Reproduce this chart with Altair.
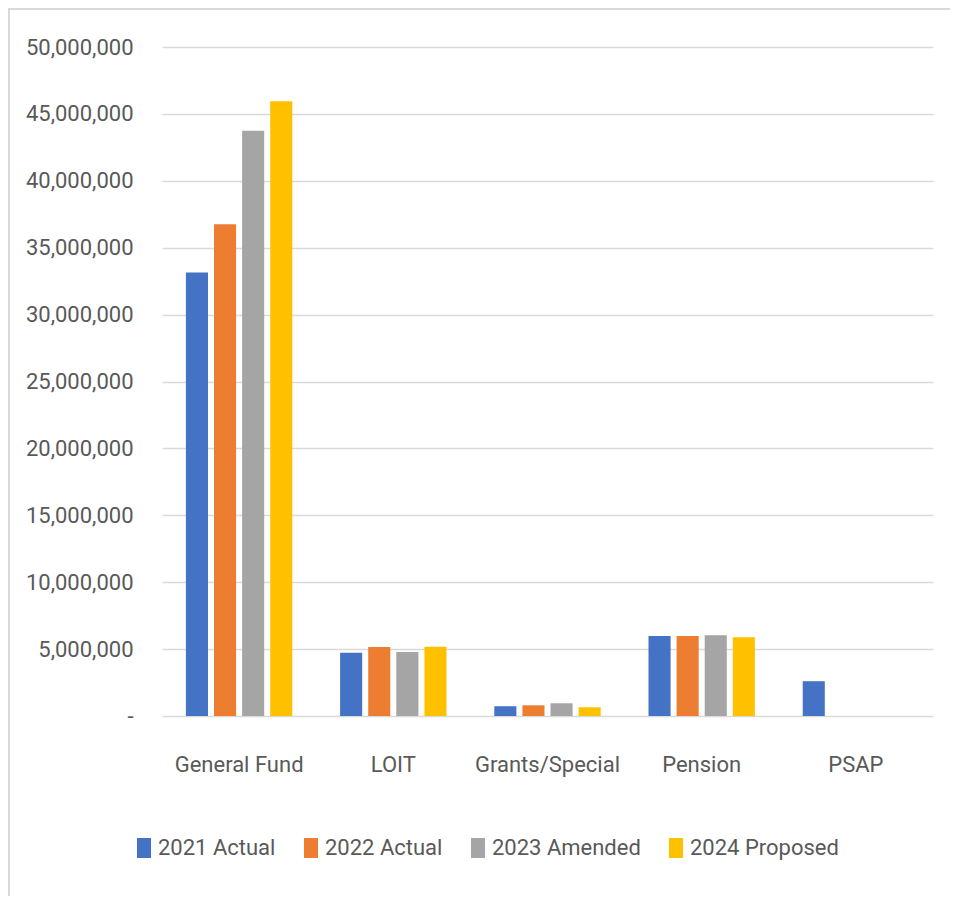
import altair as alt
import pandas as pd

funds = ["General Fund", "LOIT", "Grants/Special", "Pension", "PSAP"]
series = ["2021 Actual", "2022 Actual", "2023 Amended", "2024 Proposed"]
colors = ["#4472C4", "#ED7D31", "#A5A5A5", "#FFC000"]

v2021 = [33150000, 4730000, 730000, 5970000, 2600000]
v2022 = [36750000, 5150000, 800000, 5970000, 0]
v2023 = [43750000, 4780000, 950000, 6040000, 0]
v2024 = [45950000, 5180000, 650000, 5890000, 0]

y_ticks = [0, 5000000, 10000000, 15000000, 20000000, 25000000,
           30000000, 35000000, 40000000, 45000000, 50000000]

rows = []
for s, vals in zip(series, [v2021, v2022, v2023, v2024]):
    for f, v in zip(funds, vals):
        rows.append({"Fund": f, "Series": s, "Value": v})
df = pd.DataFrame(rows)

FONT = "Roboto, Liberation Sans, sans-serif"
FS = 22
TXT = "#595959"

bars = alt.Chart(df).mark_bar().encode(
    x=alt.X("Fund:N", sort=funds, title=None,
            scale=alt.Scale(paddingInner=0.31, paddingOuter=0.155),
            axis=alt.Axis(labelAngle=0, domain=False, ticks=False,
                          labelFont=FONT, labelFontSize=FS, labelColor=TXT,
                          labelBaseline="alphabetic", labelPadding=55, labelLimit=0)),
    xOffset=alt.XOffset("Series:N", sort=series,
                        scale=alt.Scale(paddingInner=0.214, paddingOuter=0)),
    y=alt.Y("Value:Q", title=None,
            scale=alt.Scale(domain=[0, 50000000], nice=False),
            axis=alt.Axis(values=y_ticks, domain=False, ticks=False,
                          labelExpr="datum.value == 0 ? '-' : format(datum.value, ',')",
                          labelFont=FONT, labelFontSize=FS, labelColor=TXT, labelLimit=0,
                          labelPadding=29, gridColor="#D9D9D9", gridWidth=1.7)),
    color=alt.Color("Series:N", sort=series,
                    scale=alt.Scale(domain=series, range=colors),
                    legend=alt.Legend(title=None, orient="none", direction="horizontal",
                                      columns=4, legendX=-29, legendY=790,
                                      symbolType="M-0.7,-1H0.7V1H-0.7Z", symbolSize=400,
                                      symbolStrokeWidth=0, labelOffset=3, labelLimit=0,
                                      columnPadding=24, padding=0,
                                      labelFont=FONT, labelFontSize=FS, labelColor=TXT)),
)

# light outer chart frame (left and top edges, as in the reference)
frame_df = pd.DataFrame({"k": [0]})
frame_left = alt.Chart(frame_df).mark_rule(color="#D9D9D9", strokeWidth=2).encode(
    x=alt.value(-153), y=alt.value(-39), y2=alt.value(849)
)
frame_top = alt.Chart(frame_df).mark_rule(color="#D9D9D9", strokeWidth=2).encode(
    x=alt.value(-154), x2=alt.value(788), y=alt.value(-38)
)

chart = alt.layer(bars, frame_left, frame_top).properties(
    width=771, height=669,
    background="white",
    autosize=alt.AutoSizeParams(type="none"),
    padding={"left": 154, "top": 39, "right": 17, "bottom": 180},
).configure_view(stroke="transparent", strokeWidth=0)

chart.save("out.html", embed_options={"renderer": "svg", "actions": False})
